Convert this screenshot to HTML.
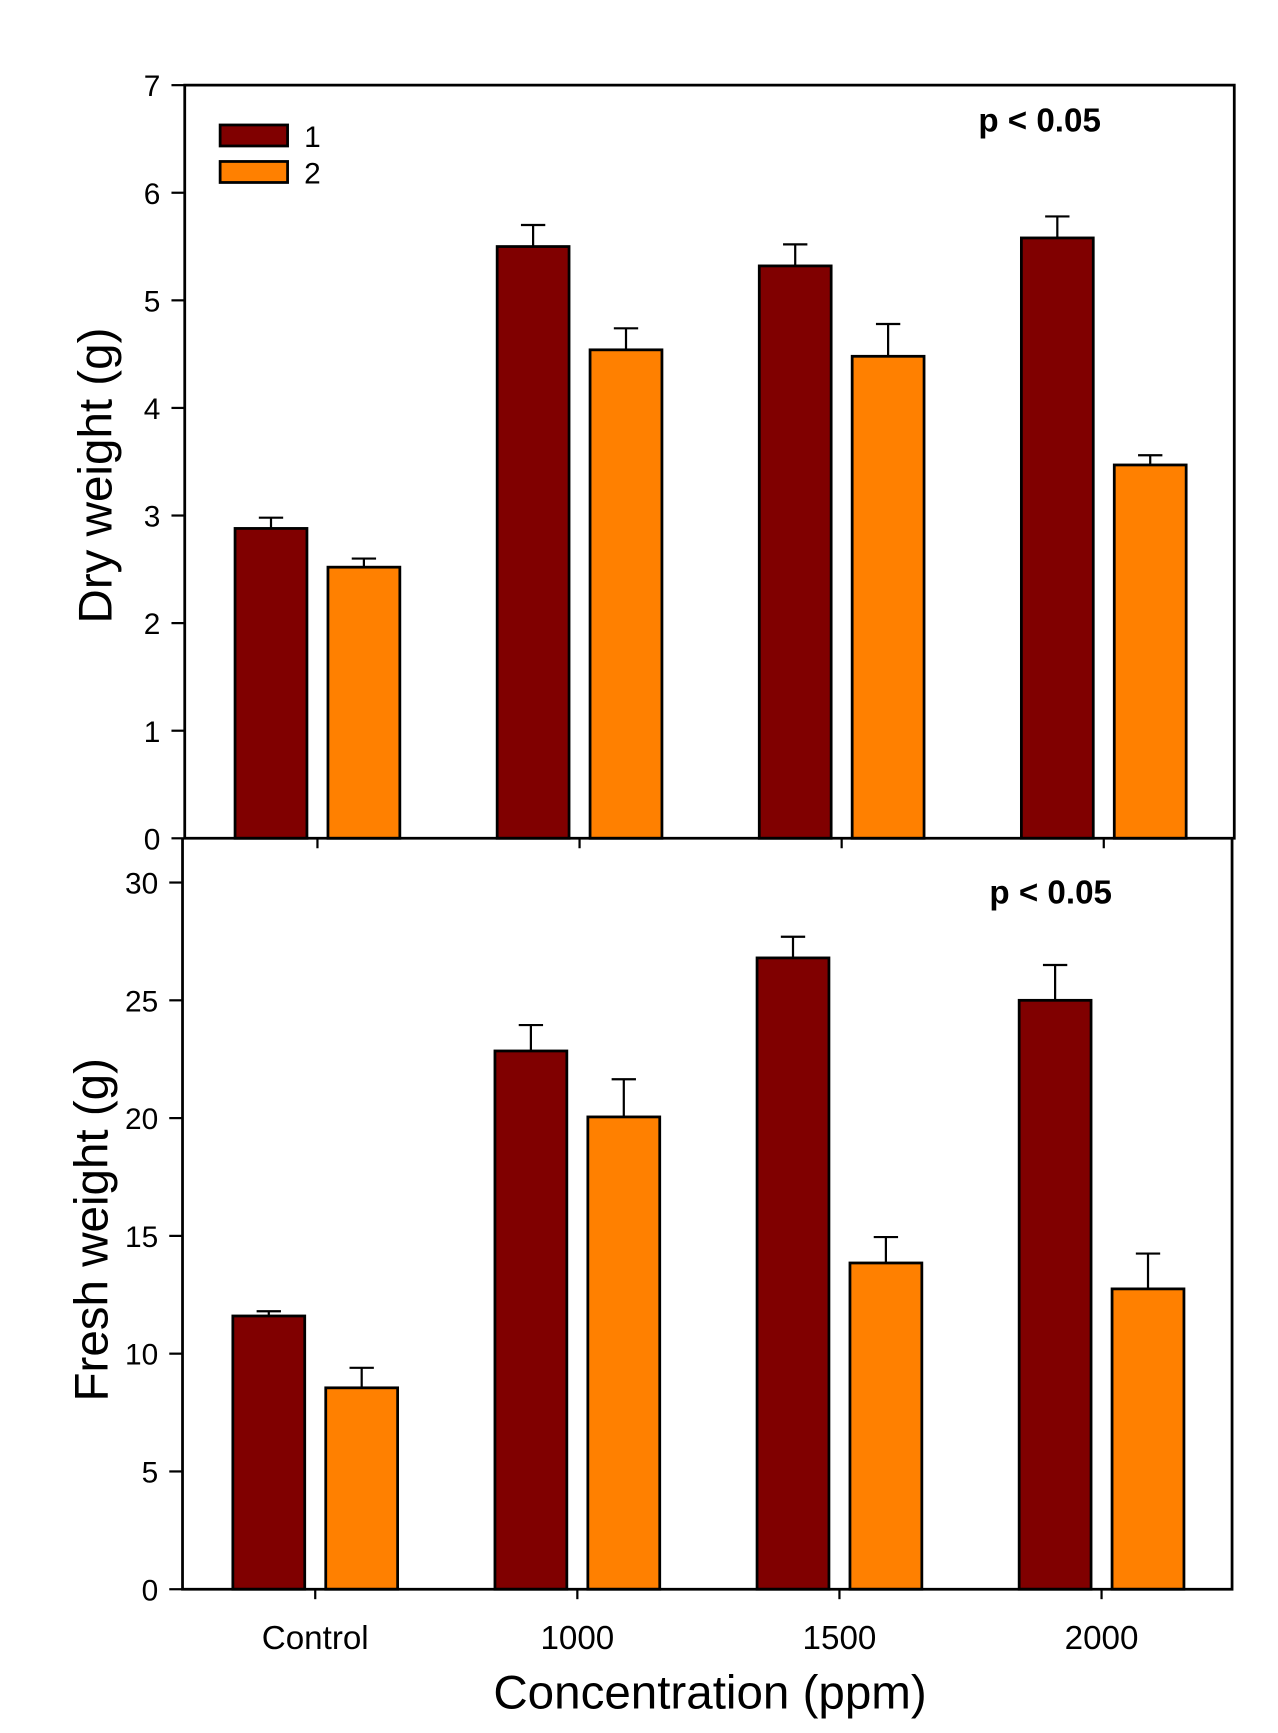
<!DOCTYPE html>
<html><head><meta charset="utf-8"><style>
html,body{margin:0;padding:0;background:#fff;}
svg{display:block;font-family:"Liberation Sans",Arial,sans-serif;}
</style></head><body>
<svg id="chart" width="1278" height="1733" viewBox="0 0 1155.5 1567" xmlns="http://www.w3.org/2000/svg"></svg>
<script>
const categories = ["Control","1000","1500","2000"];
const dryS1 = [2.88, 5.5, 5.32, 5.58];
const dryS1Err = [0.1, 0.2, 0.2, 0.2];
const dryS2 = [2.52, 4.54, 4.48, 3.47];
const dryS2Err = [0.08, 0.2, 0.3, 0.09];
const freshS1 = [11.6, 22.85, 26.8, 25.0];
const freshS1Err = [0.2, 1.1, 0.9, 1.5];
const freshS2 = [8.55, 20.05, 13.85, 12.75];
const freshS2Err = [0.85, 1.6, 1.1, 1.5];
const dryTicks = [0,1,2,3,4,5,6,7];
const freshTicks = [0,5,10,15,20,25,30];

const svg = document.getElementById('chart');
const NS = 'http://www.w3.org/2000/svg';
function mk(tag, attrs, parent){
  const e = document.createElementNS(NS, tag);
  for (const k in attrs) e.setAttribute(k, attrs[k]);
  (parent||svg).appendChild(e);
  return e;
}
const C1 = '#800000', C2 = '#ff8000';

function panel(cfg){
  const g = mk('g', {});
  
  
  const y = v => cfg.y0 - (v - 0) / cfg.max * (cfg.y0 - cfg.yTop);
  const xc = i => cfg.x0 + 120 + i * 237;
  const series = [[cfg.s1, cfg.e1, C1, -42, 's1'], [cfg.s2, cfg.e2, C2, 42, 's2']];
  series.forEach(([vals, errs, col, off, sn]) => {
    vals.forEach((v, i) => {
      const cx = xc(i) + off;
      const top = y(v + errs[i]);
      const el = mk('line', {x1: cx, x2: cx, y1: y(v), y2: top, stroke: '#000', 'stroke-width': 2}, g);
      
      
      const cap = mk('line', {x1: cx - 11, x2: cx + 11, y1: top, y2: top, stroke: '#000', 'stroke-width': 2}, g);
      
      
      const b = mk('rect', {x: cx - 32.5, y: y(v), width: 65, height: cfg.y0 - y(v), fill: col, stroke: '#000', 'stroke-width': 2.5}, g);
      
      
    });
  });
  const ax = mk('path', {d: cfg.frame, fill: 'none', stroke: '#000', 'stroke-width': 2.5}, g);
  
  
  cfg.ticks.forEach(t => {
    const tl = mk('line', {x1: cfg.x0 - 12, x2: cfg.x0, y1: y(t), y2: y(t), stroke: '#000', 'stroke-width': 2}, g);
    
    
    const tx = mk('text', {x: cfg.x0 - 22, y: y(t) + 10, 'text-anchor': 'end', 'font-size': 27}, g);
    tx.textContent = t;
    
    
  });
  categories.forEach((c, i) => {
    const tl = mk('line', {x1: xc(i), x2: xc(i), y1: cfg.y0, y2: cfg.y0 + 9, stroke: '#000', 'stroke-width': 2}, g);
    
    
    if (cfg.xlabels) {
      const tx = mk('text', {x: xc(i), y: cfg.y0 + 54, 'text-anchor': 'middle', 'font-size': 30}, g);
      tx.textContent = c;
      
      
    }
  });
  const yt = mk('text', {x: cfg.ytX, y: cfg.ytY, 'text-anchor': 'middle', 'font-size': 43, transform: 'rotate(-90 ' + cfg.ytX + ' ' + cfg.ytY + ')'}, g);
  yt.textContent = cfg.ytitle;
  
  
  const p = mk('text', {x: cfg.pX, y: cfg.pY, 'text-anchor': 'middle', 'font-size': 30, 'font-weight': 'bold'}, g);
  p.textContent = 'p < 0.05';
  
  
}

panel({name: 'dry-weight-panel', x0: 167, y0: 758, yTop: 77, max: 7, ticks: dryTicks,
  s1: dryS1, e1: dryS1Err, s2: dryS2, e2: dryS2Err,
  frame: 'M167 77 L167 758 L1116 758 L1116 77 Z', xlabels: false,
  ytitle: 'Dry weight (g)', ytX: 101, ytY: 430, pX: 940, pY: 119});
panel({name: 'fresh-weight-panel', x0: 165, y0: 1437, yTop: 798, max: 30, ticks: freshTicks,
  s1: freshS1, e1: freshS1Err, s2: freshS2, e2: freshS2Err,
  frame: 'M165 758 L165 1437 L1114 1437 L1114 758', xlabels: true,
  ytitle: 'Fresh weight (g)', ytX: 97, ytY: 1112, pX: 950, pY: 817});

const xt = mk('text', {x: 642, y: 1545, 'text-anchor': 'middle', 'font-size': 43});
xt.textContent = 'Concentration (ppm)';



const lg = mk('g', {});


[['1', C1, 113], ['2', C2, 146]].forEach(([lab, col, ly]) => {
  const r = mk('rect', {x: 199, y: ly, width: 61, height: 19, fill: col, stroke: '#000', 'stroke-width': 2.5}, lg);
  
  
  const t = mk('text', {x: 275, y: ly + 20, 'font-size': 27}, lg);
  t.textContent = lab;
  
  
});
</script>
</body></html>
